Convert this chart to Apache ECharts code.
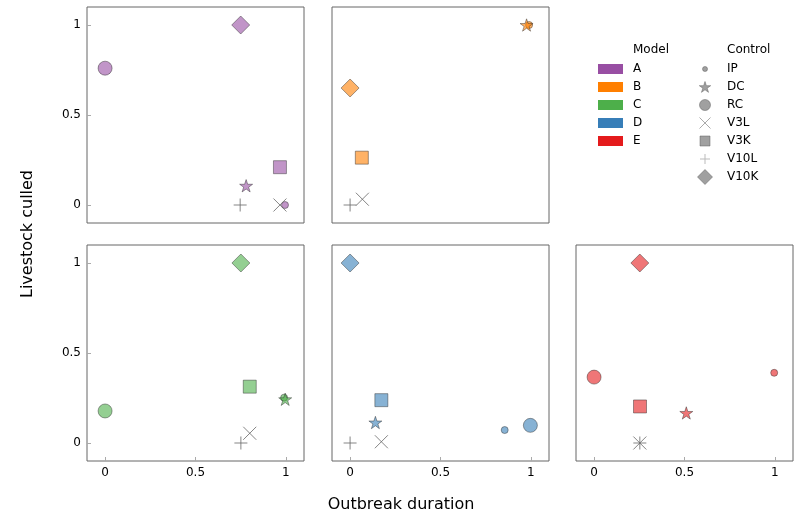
<!DOCTYPE html>
<html><head><meta charset="utf-8">
<script src="https://cdn.jsdelivr.net/npm/echarts@6/dist/echarts.min.js"></script>
<style>html,body{margin:0;padding:0;background:#fff}#c{width:800px;height:518px}</style>
</head><body><div id="c"></div>
<script>
// ---------- data ----------
const models = ['A', 'B', 'C', 'D', 'E'];
const modelColors = ['#984ea3', '#ff7f00', '#4daf4a', '#377eb8', '#e41a1c'];
const controls = ['IP', 'DC', 'RC', 'V3L', 'V3K', 'V10L', 'V10K'];
// values per control, in the order of `controls`
const durationA = [0.995, 0.78, 0.0, 0.967, 0.967, 0.747, 0.75];
const culledA   = [0.0, 0.107, 0.76, 0.0, 0.21, 0.0, 1.0];
const durationB = [0.99, 0.976, null, 0.068, 0.065, 0.0, 0.0];
const culledB   = [1.0, 1.0, null, 0.032, 0.263, 0.0, 0.65];
const durationC = [0.99, 0.996, 0.0, 0.8, 0.8, 0.751, 0.751];
const culledC   = [0.252, 0.243, 0.178, 0.054, 0.313, 0.0, 1.0];
const durationD = [0.855, 0.14, 0.997, 0.173, 0.173, 0.0, 0.0];
const culledD   = [0.072, 0.114, 0.098, 0.007, 0.238, 0.0, 1.0];
const durationE = [0.996, 0.51, 0.0, 0.253, 0.254, 0.253, 0.253];
const culledE   = [0.39, 0.167, 0.366, 0.0, 0.203, 0.0, 1.0];
const tickValues = [0, 0.5, 1];
const tickLabels = ['0', '0.5', '1'];
const xTitle = 'Outbreak duration';
const yTitle = 'Livestock culled';

const durations = [durationA, durationB, durationC, durationD, durationE];
const culled = [culledA, culledB, culledC, culledD, culledE];

// ---------- styles ----------
const STAR = 'path://M50,0L61.23,34.55L97.55,34.55L68.17,55.9L79.39,90.45L50,69.1L20.61,90.45L31.83,55.9L2.45,34.55L38.77,34.55Z';
const XMARK = 'path://M0,0L10,10M0,10L10,0';
const PLUS = 'path://M5,0L5,10M0,5L10,5';
const controlStyle = {
  IP:   {symbol: 'circle', size: 7, stroked: false},
  DC:   {symbol: STAR, size: 13, stroked: false},
  RC:   {symbol: 'circle', size: 14, stroked: false},
  V3L:  {symbol: XMARK, size: 13, stroked: true},
  V3K:  {symbol: 'rect', size: 13, stroked: false},
  V10L: {symbol: PLUS, size: 13, stroked: true},
  V10K: {symbol: 'diamond', size: 18, stroked: false}
};
function rgba(hex, a) {
  const n = parseInt(hex.slice(1), 16);
  return `rgba(${(n >> 16) & 255},${(n >> 8) & 255},${n & 255},${a})`;
}
const FONT = 'DejaVu Sans';

// ---------- layout ----------
const gridPos = [[87, 7], [332, 7], [87, 245], [332, 245], [576, 245]];
const showX = [false, false, true, true, true];
const showY = [true, false, true, false, false];

const grid = gridPos.map(p => ({
  left: p[0], top: p[1], width: 217, height: 216,
  show: true, borderColor: '#666', borderWidth: 1, backgroundColor: 'transparent'
}));
function axis(i, show) {
  return {
    type: 'value', gridIndex: i, min: -0.1, max: 1.1,
    splitLine: {show: false}, axisLine: {show: false, onZero: false},
    axisTick: {show: show, inside: true, length: 4, customValues: tickValues, lineStyle: {color: '#aaa'}},
    axisLabel: {
      show: show, customValues: tickValues, color: '#000', fontSize: 12, fontFamily: FONT, margin: 6,
      formatter: v => { const k = tickValues.indexOf(v); return k >= 0 ? tickLabels[k] : String(v); }
    }
  };
}
const xAxis = gridPos.map((p, i) => axis(i, showX[i]));
const yAxis = gridPos.map((p, i) => axis(i, showY[i]));

const series = [];
models.forEach((m, mi) => {
  controls.forEach((c, ci) => {
    const x = durations[mi][ci], y = culled[mi][ci];
    if (x == null || y == null) return;
    const st = controlStyle[c];
    series.push({
      type: 'scatter', name: c, xAxisIndex: mi, yAxisIndex: mi,
      symbol: st.symbol, symbolSize: st.size, symbolKeepAspect: true,
      silent: true, animation: false,
      itemStyle: st.stroked
        ? {color: 'rgba(0,0,0,0)', borderColor: '#666', borderWidth: 1}
        : {color: rgba(modelColors[mi], 0.6), borderColor: 'rgba(40,40,40,0.55)', borderWidth: 0.8, opacity: 1},
      data: [[x, y]]
    });
  });
});

// ---------- legend (graphic) ----------
const graphic = [];
const rowY = i => 69 + 18 * i;
graphic.push({type: 'text', left: 633, top: 44, style: {text: 'Model', font: `12px "${FONT}"`, fill: '#000'}});
graphic.push({type: 'text', left: 727, top: 44, style: {text: 'Control', font: `12px "${FONT}"`, fill: '#000'}});
models.forEach((m, i) => {
  graphic.push({type: 'rect', shape: {x: 598, y: rowY(i) - 5, width: 25, height: 10}, style: {fill: modelColors[i]}});
  graphic.push({type: 'text', x: 633, y: rowY(i), style: {text: m, font: `12px "${FONT}"`, fill: '#000', verticalAlign: 'middle'}});
});
const legendSize = {IP: 5, DC: 11, RC: 11, V3L: 11, V3K: 10, V10L: 10, V10K: 15};
function starPoints(cx, cy, R) {
  const pts = [];
  for (let k = 0; k < 10; k++) {
    const r = k % 2 === 0 ? R : R * 0.382;
    const a = -Math.PI / 2 + k * Math.PI / 5;
    pts.push([cx + r * Math.cos(a), cy + r * Math.sin(a)]);
  }
  return pts;
}
controls.forEach((c, i) => {
  const cx = 705, cy = rowY(i), s = legendSize[c], h = s / 2;
  const fill = 'rgba(120,120,120,0.7)', stroke = 'rgba(90,90,90,0.6)';
  let el;
  if (c === 'IP' || c === 'RC') el = {type: 'circle', shape: {cx, cy, r: h}, style: {fill, stroke, lineWidth: 0.8}};
  else if (c === 'DC') el = {type: 'polygon', shape: {points: starPoints(cx, cy + 0.5, h + 0.5)}, style: {fill, stroke, lineWidth: 0.8}};
  else if (c === 'V3K') el = {type: 'rect', shape: {x: cx - h, y: cy - h, width: s, height: s}, style: {fill, stroke, lineWidth: 0.8}};
  else if (c === 'V10K') el = {type: 'polygon', shape: {points: [[cx, cy - h], [cx + h, cy], [cx, cy + h], [cx - h, cy]]}, style: {fill, stroke, lineWidth: 0.8}};
  else if (c === 'V3L') el = {type: 'group', children: [
    {type: 'line', shape: {x1: cx - h, y1: cy - h, x2: cx + h, y2: cy + h}, style: {stroke: '#aaa', lineWidth: 1}},
    {type: 'line', shape: {x1: cx - h, y1: cy + h, x2: cx + h, y2: cy - h}, style: {stroke: '#aaa', lineWidth: 1}}]};
  else el = {type: 'group', children: [
    {type: 'line', shape: {x1: cx, y1: cy - h, x2: cx, y2: cy + h}, style: {stroke: '#bbb', lineWidth: 1}},
    {type: 'line', shape: {x1: cx - h, y1: cy, x2: cx + h, y2: cy}, style: {stroke: '#bbb', lineWidth: 1}}]};
  graphic.push(el);
  graphic.push({type: 'text', x: 727, y: cy, style: {text: c, font: `12px "${FONT}"`, fill: '#000', verticalAlign: 'middle'}});
});
// axis titles
graphic.push({type: 'text', x: 401, y: 505, style: {text: xTitle, font: `16px "${FONT}"`, fill: '#000', align: 'center', verticalAlign: 'middle'}});
graphic.push({type: 'text', x: 28, y: 234, rotation: Math.PI / 2, style: {text: yTitle, font: `16px "${FONT}"`, fill: '#000', align: 'center', verticalAlign: 'middle'}});

const chart = echarts.init(document.getElementById('c'), null, {renderer: 'canvas'});
chart.setOption({animation: false, backgroundColor: '#fff', grid, xAxis, yAxis, series, graphic});
</script></body></html>
